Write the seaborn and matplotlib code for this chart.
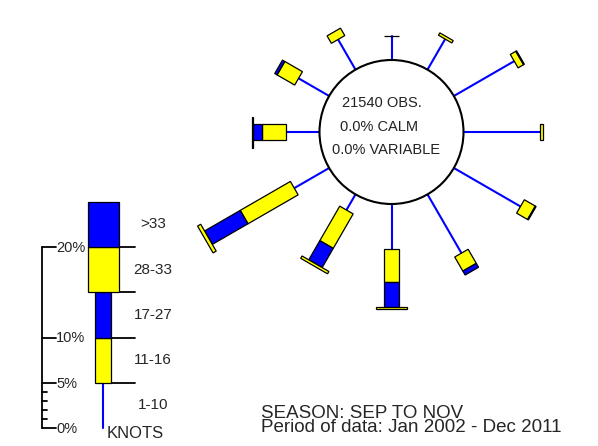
import numpy as np
import pandas as pd
import matplotlib
matplotlib.use("Agg")
import matplotlib.pyplot as plt
import seaborn as sns
from matplotlib.patches import Polygon, Circle, Rectangle

# ===== data: percent of observations per direction and speed class =====
directions = [0, 30, 60, 90, 120, 150, 180, 210, 240, 270, 300, 330]
pct_1_10 = [2.65, 3.9, 7.7, 8.5, 8.5, 7.5, 5.0, 2.0, 4.45, 3.7, 3.9, 3.85]
pct_11_16 = [0.05, 0.3, 0.7, 0.3, 1.4, 1.8, 3.6, 4.4, 6.4, 2.6, 2.25, 0.95]
pct_17_27 = [0.0, 0.0, 0.1, 0.0, 0.1, 0.5, 2.8, 2.45, 4.55, 1.1, 0.3, 0.0]
pct_28_33 = [0.0, 0.0, 0.0, 0.0, 0.0, 0.0, 0.25, 0.3, 0.4, 0.05, 0.0, 0.0]
pct_gt33 = [0.0] * 12

speed_classes = ["1-10", "11-16", "17-27", "28-33", ">33"]
legend_pct = [5, 5, 5, 5, 5]
scale_ticks = [0, 5, 10, 20]
scale_minor = [1, 2, 3, 4]

n_obs = 21540
calm_pct = 0.0
variable_pct = 0.0
season = "SEP TO NOV"
period = "Jan 2002 - Dec 2011"

# ===== style =====
sns.set_theme(style="white")
plt.rcParams["font.family"] = ["Liberation Sans", "DejaVu Sans"]

BLUE = "#0000FF"
YELLOW = "#FFFF00"
PX = 9.05            # pixels per percent
CX, CY, R = 391.5, 132, 72
NARROW, WIDE = 15.5, 31
seg_colors = [None, YELLOW, BLUE, YELLOW, BLUE]
seg_widths = [0, NARROW, NARROW, WIDE, WIDE]

fig = plt.figure(figsize=(5.98, 4.46), dpi=100)
ax = fig.add_axes([0, 0, 1, 1])


def seg_box(theta, r0, r1, w):
    t = np.deg2rad(theta)
    u = np.array([np.sin(t), -np.cos(t)])
    p = np.array([np.cos(t), np.sin(t)])
    c = np.array([CX, CY])
    return [c + u * r0 + p * w / 2, c + u * r1 + p * w / 2,
            c + u * r1 - p * w / 2, c + u * r0 - p * w / 2]


# spokes (1-10 kt) as lines
rows = []
for d, p1 in zip(directions, pct_1_10):
    t = np.deg2rad(d)
    for r in (R, R + p1 * PX):
        rows.append({"dir": d, "x": CX + r * np.sin(t), "y": CY - r * np.cos(t)})
spokes = pd.DataFrame(rows)
sns.lineplot(data=spokes, x="x", y="y", units="dir", estimator=None, sort=False,
             color=BLUE, lw=1.5, legend=False, ax=ax)
ax.set_xlim(0, 598)
ax.set_ylim(446, 0)
ax.axis("off")

# stacked boxes
table = np.array([pct_1_10, pct_11_16, pct_17_27, pct_28_33, pct_gt33]).T
for d, row in zip(directions, table):
    r0 = R + row[0] * PX
    for k in range(1, 5):
        if row[k] <= 0:
            continue
        r1 = r0 + row[k] * PX
        ax.add_patch(Polygon(seg_box(d, r0, r1, seg_widths[k]), closed=True,
                             facecolor=seg_colors[k], edgecolor="black", lw=0.9, zorder=3))
        r0 = r1

ax.add_patch(Circle((CX, CY), R, facecolor="white", edgecolor="black", lw=1.5, zorder=4))
ax.text(381.7, 103, f"{n_obs} OBS.", ha="center", va="center", fontsize=10.5, color="#222222", zorder=5)
ax.text(379, 127, f"{calm_pct:.1f}% CALM", ha="center", va="center", fontsize=10.5, color="#222222", zorder=5)
ax.text(386, 150, f"{variable_pct:.1f}% VARIABLE", ha="center", va="center", fontsize=10.5, color="#222222", zorder=5)

# ===== legend =====
LX, LY = 103, 428
SX = 41.7
ax.plot([SX, SX], [LY, LY - 20 * PX], color="black", lw=1.3)
for v in scale_ticks:
    y = LY - v * PX
    ax.plot([SX, 56], [y, y], color="black", lw=1.3)
    ax.text(56, y + 1, f"{v}%", ha="left", va="center", fontsize=10.5)
for v in scale_minor:
    y = LY - v * PX
    ax.plot([SX, 47], [y, y], color="black", lw=1.3)

lvl = 0
for k, (name, pv) in enumerate(zip(speed_classes, legend_pct)):
    y0 = LY - lvl * PX
    y1 = LY - (lvl + pv) * PX
    if k == 0:
        ax.plot([LX, LX], [y0, y1], color=BLUE, lw=1.5)
    else:
        w = seg_widths[k]
        ax.add_patch(Rectangle((LX - w / 2, y1), w, y0 - y1, facecolor=seg_colors[k],
                               edgecolor="black", lw=0.9, zorder=3))
    if k < 4:
        x_start = LX + (NARROW / 2 if k < 2 else WIDE / 2)
        ax.plot([x_start, 135], [y1, y1], color="black", lw=1.3)
    ax.text(153, (y0 + y1) / 2, name, ha="center", va="center", fontsize=11)
    lvl += pv

ax.text(107, 434, "KNOTS", ha="left", va="center", fontsize=12)

ax.text(261, 418.5, f"SEASON: {season}", ha="left", va="baseline", fontsize=13.5)
ax.text(261, 432, f"Period of data: {period}", ha="left", va="baseline", fontsize=13.5)

fig.savefig("out.png", dpi=100)
